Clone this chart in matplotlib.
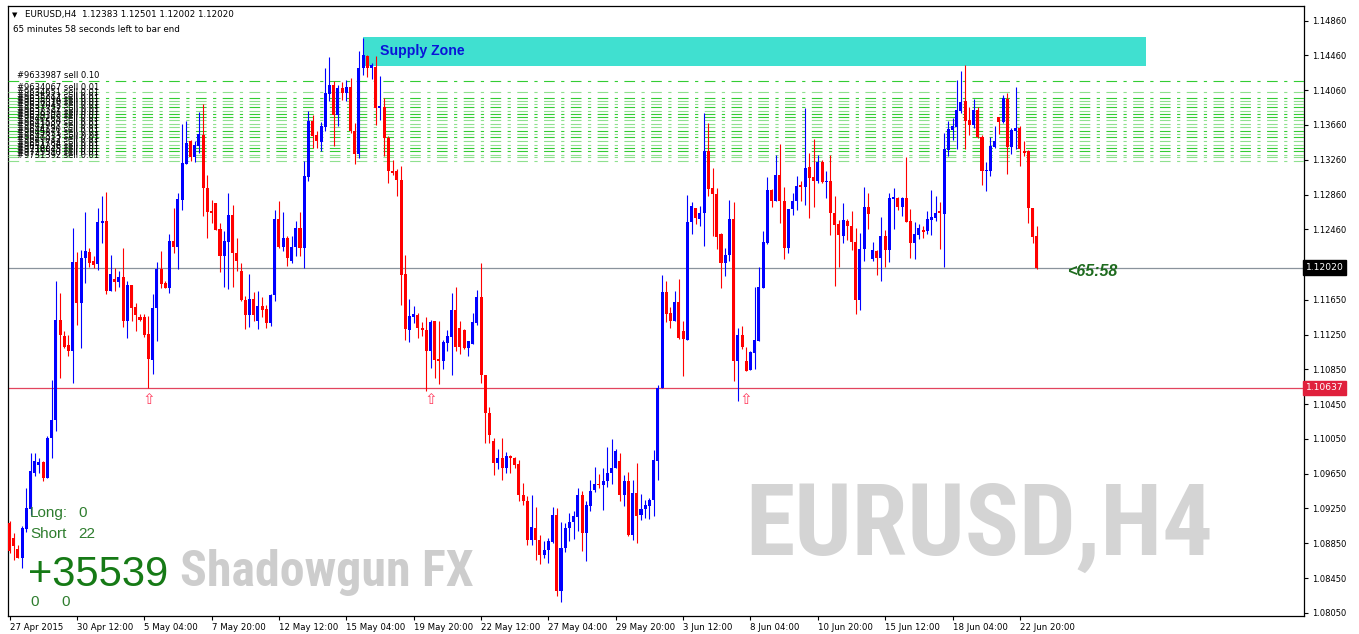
import matplotlib
matplotlib.use("Agg")
import matplotlib.pyplot as plt
from matplotlib import font_manager as fm
from matplotlib.patches import Rectangle
import numpy as np

plt.rcParams['font.family'] = ['DejaVu Sans']

# ---------------- data (EURUSD H4) ----------------
opens = [
    1.0908, 1.0891, 1.0878, 1.0868, 1.0901, 1.0924, 1.0966, 1.0975, 1.0978, 1.0960, 1.1006, 1.1027,
    1.1142, 1.1123, 1.1113, 1.1106, 1.1208, 1.1161, 1.1213, 1.1220, 1.1209, 1.1206, 1.1253, 1.1256,
    1.1175, 1.1189, 1.1185, 1.1191, 1.1140, 1.1182, 1.1157, 1.1145, 1.1145, 1.1126, 1.1096, 1.1155,
    1.1200, 1.1184, 1.1178, 1.1233, 1.1226, 1.1280, 1.1321, 1.1347, 1.1329, 1.1342, 1.1355, 1.1294,
    1.1267, 1.1276, 1.1246, 1.1215, 1.1231, 1.1262, 1.1219, 1.1198, 1.1165, 1.1148, 1.1166, 1.1140,
    1.1158, 1.1154, 1.1138, 1.1170, 1.1258, 1.1226, 1.1236, 1.1210, 1.1226, 1.1248, 1.1225, 1.1306,
    1.1370, 1.1354, 1.1346, 1.1364, 1.1402, 1.1412, 1.1377, 1.1409, 1.1403, 1.1410, 1.1359, 1.1333,
    1.1431, 1.1445, 1.1432, 1.1433, 1.1385, 1.1387, 1.1351, 1.1313, 1.1313, 1.1303, 1.1195,
    1.1130, 1.1145, 1.1147, 1.1133, 1.1130, 1.1106, 1.1140, 1.1097, 1.1095, 1.1115, 1.1122, 1.1153,
    1.1132, 1.1130, 1.1109, 1.1114, 1.1138, 1.1168, 1.1078, 1.1035, 1.1003, 1.0977, 1.0983,
    1.0971, 1.0985, 1.0983, 1.0976, 1.0941, 1.0934, 1.0889, 1.0903, 1.0889, 1.0872, 1.0877, 1.0886,
    1.0918, 1.0830, 1.0880, 1.0902, 1.0909, 1.0915, 1.0940, 1.0897, 1.0928, 1.0946, 1.0953, 1.0952, 1.0956,
    1.0966, 1.0972, 1.0979, 1.0941, 1.0957, 1.0895, 1.0943, 1.0917, 1.0924, 1.0928, 1.0935, 1.0980,
    1.1063, 1.1174, 1.1150, 1.1140, 1.1162, 1.1129, 1.1119, 1.1254, 1.1271, 1.1258, 1.1265, 1.1336,
    1.1293, 1.1287, 1.1241, 1.1207, 1.1216, 1.1258, 1.1095, 1.1124, 1.1095, 1.1084, 1.1104, 1.1118,
    1.1179, 1.1230, 1.1291, 1.1279, 1.1309, 1.1279, 1.1224, 1.1269, 1.1279, 1.1297, 1.1295,
    1.1318, 1.1306, 1.1302, 1.1323, 1.1300, 1.1302, 1.1265, 1.1252, 1.1238, 1.1256, 1.1250, 1.1231,
    1.1165, 1.1223, 1.1272, 1.1212, 1.1221, 1.1213, 1.1238, 1.1222, 1.1281, 1.1282, 1.1272, 1.1282,
    1.1255, 1.1230, 1.1239, 1.1245, 1.1244, 1.1257, 1.1259, 1.1267, 1.1264, 1.1337, 1.1360, 1.1364,
    1.1382, 1.1393, 1.1372, 1.1366, 1.1383, 1.1352, 1.1313, 1.1313, 1.1341, 1.1375, 1.1369, 1.1396,
    1.1341, 1.1359, 1.1362, 1.1336, 1.1336, 1.1270, 1.12383,
]
highs = [
    1.0910, 1.0897, 1.0883, 1.0905, 1.0949, 1.0989, 1.0989, 1.0983, 1.0980, 1.1008, 1.1073, 1.1186,
    1.1173, 1.1129, 1.1125, 1.1247, 1.1220, 1.1222, 1.1266, 1.1224, 1.1215, 1.1270, 1.1284, 1.1289,
    1.1217, 1.1201, 1.1198, 1.1224, 1.1186, 1.1182, 1.1161, 1.1149, 1.1149, 1.1146, 1.1172, 1.1208,
    1.1221, 1.1187, 1.1241, 1.1270, 1.1288, 1.1367, 1.1370, 1.1349, 1.1347, 1.1381, 1.1390, 1.1309,
    1.1280, 1.1276, 1.1253, 1.1244, 1.1288, 1.1274, 1.1236, 1.1207, 1.1169, 1.1195, 1.1174, 1.1175,
    1.1168, 1.1159, 1.1172, 1.1268, 1.1278, 1.1266, 1.1238, 1.1238, 1.1255, 1.1266, 1.1324, 1.1382,
    1.1378, 1.1359, 1.1369, 1.1431, 1.1444, 1.1416, 1.1412, 1.1415, 1.1418, 1.1420, 1.1368, 1.1451,
    1.1466, 1.1447, 1.1437, 1.1445, 1.1422, 1.1397, 1.1353, 1.1326, 1.1315, 1.1319, 1.1217,
    1.1166, 1.1158, 1.1150, 1.1139, 1.1145, 1.1142, 1.1141, 1.1140, 1.1119, 1.1130, 1.1173, 1.1180,
    1.1140, 1.1131, 1.1117, 1.1150, 1.1176, 1.1207, 1.1079, 1.1042, 1.1006, 1.0993, 1.1006,
    1.0990, 1.0987, 1.0984, 1.0981, 1.0954, 1.0939, 1.0940, 1.0927, 1.0895, 1.0887, 1.0891, 1.0927,
    1.0925, 1.0909, 1.0908, 1.0920, 1.0922, 1.0949, 1.0945, 1.0933, 1.0958, 1.0973, 1.0965, 1.0972, 1.0996,
    1.1005, 1.0993, 1.0989, 1.0964, 1.0967, 1.0958, 1.0977, 1.0942, 1.0935, 1.0937, 1.0992, 1.1067,
    1.1194, 1.1186, 1.1157, 1.1175, 1.1189, 1.1141, 1.1285, 1.1277, 1.1271, 1.1273, 1.1380, 1.1368,
    1.1317, 1.1293, 1.1242, 1.1224, 1.1280, 1.1277, 1.1133, 1.1135, 1.1111, 1.1106, 1.1180, 1.1203,
    1.1244, 1.1306, 1.1292, 1.1331, 1.1344, 1.1295, 1.1269, 1.1288, 1.1307, 1.1302, 1.1385,
    1.1334, 1.1350, 1.1331, 1.1326, 1.1313, 1.1331, 1.1284, 1.1257, 1.1276, 1.1258, 1.1267, 1.1247,
    1.1242, 1.1295, 1.1288, 1.1231, 1.1222, 1.1260, 1.1245, 1.1288, 1.1293, 1.1283, 1.1283, 1.1329,
    1.1269, 1.1254, 1.1252, 1.1250, 1.1267, 1.1291, 1.1284, 1.1277, 1.1357, 1.1370, 1.1374, 1.1418,
    1.1428, 1.1435, 1.1387, 1.1396, 1.1387, 1.1355, 1.1323, 1.1352, 1.1365, 1.1375, 1.1400, 1.1403,
    1.1363, 1.1410, 1.1365, 1.1347, 1.1337, 1.1270, 1.12501,
]
lows = [
    1.0874, 1.0866, 1.0868, 1.0857, 1.0898, 1.0918, 1.0962, 1.0966, 1.0957, 1.0960, 1.0983, 1.1014,
    1.1075, 1.1109, 1.1100, 1.1069, 1.1136, 1.1109, 1.1184, 1.1203, 1.1201, 1.1199, 1.1230, 1.1172,
    1.1175, 1.1175, 1.1180, 1.1134, 1.1121, 1.1140, 1.1129, 1.1140, 1.1122, 1.1064, 1.1080, 1.1117,
    1.1178, 1.1178, 1.1173, 1.1219, 1.1200, 1.1268, 1.1321, 1.1324, 1.1323, 1.1334, 1.1261, 1.1236,
    1.1253, 1.1245, 1.1197, 1.1180, 1.1177, 1.1180, 1.1198, 1.1163, 1.1131, 1.1134, 1.1140, 1.1131,
    1.1145, 1.1133, 1.1135, 1.1164, 1.1225, 1.1221, 1.1204, 1.1207, 1.1215, 1.1215, 1.1202, 1.1302,
    1.1339, 1.1339, 1.1336, 1.1359, 1.1393, 1.1342, 1.1365, 1.1395, 1.1394, 1.1357, 1.1321, 1.1328,
    1.1424, 1.1421, 1.1419, 1.1366, 1.1372, 1.1330, 1.1299, 1.1309, 1.1284, 1.1159, 1.1119,
    1.1116, 1.1138, 1.1121, 1.1123, 1.1060, 1.1087, 1.1075, 1.1068, 1.1085, 1.1106, 1.1078, 1.1106,
    1.1103, 1.1108, 1.1100, 1.1114, 1.1136, 1.1069, 1.1000, 1.1000, 1.0964, 1.0970, 1.0958,
    1.0966, 1.0966, 1.0971, 1.0933, 1.0929, 1.0883, 1.0883, 1.0866, 1.0861, 1.0868, 1.0862, 1.0885,
    1.0824, 1.0817, 1.0875, 1.0888, 1.0890, 1.0899, 1.0876, 1.0865, 1.0922, 1.0944, 1.0948, 1.0923, 1.0950,
    1.0953, 1.0971, 1.0933, 1.0928, 1.0893, 1.0889, 1.0885, 1.0912, 1.0914, 1.0913, 1.0916, 1.0958,
    1.1063, 1.1139, 1.1133, 1.1140, 1.1120, 1.1077, 1.1119, 1.1241, 1.1252, 1.1250, 1.1227, 1.1284,
    1.1238, 1.1223, 1.1179, 1.1192, 1.1210, 1.1072, 1.1048, 1.1108, 1.1083, 1.1084, 1.1085, 1.1118,
    1.1179, 1.1229, 1.1272, 1.1279, 1.1253, 1.1212, 1.1219, 1.1263, 1.1268, 1.1278, 1.1274,
    1.1259, 1.1272, 1.1299, 1.1299, 1.1282, 1.1239, 1.1181, 1.1203, 1.1230, 1.1234, 1.1222, 1.1149,
    1.1153, 1.1210, 1.1246, 1.1210, 1.1193, 1.1187, 1.1203, 1.1208, 1.1246, 1.1268, 1.1261, 1.1254,
    1.1213, 1.1212, 1.1235, 1.1236, 1.1241, 1.1240, 1.1256, 1.1223, 1.1203, 1.1330, 1.1349, 1.1338,
    1.1380, 1.1338, 1.1354, 1.1362, 1.1351, 1.1297, 1.1290, 1.1307, 1.1339, 1.1356, 1.1368, 1.1310,
    1.1333, 1.1338, 1.1319, 1.1330, 1.1253, 1.1230, 1.12002,
]
closes = [
    1.0876, 1.0882, 1.0868, 1.0903, 1.0925, 1.0968, 1.0979, 1.0978, 1.0960, 1.1006, 1.1027, 1.1142,
    1.1125, 1.1111, 1.1106, 1.1208, 1.1161, 1.1213, 1.1221, 1.1207, 1.1205, 1.1254, 1.1256, 1.1175,
    1.1195, 1.1185, 1.1191, 1.1140, 1.1182, 1.1156, 1.1148, 1.1142, 1.1125, 1.1097, 1.1156, 1.1200,
    1.1183, 1.1178, 1.1233, 1.1226, 1.1281, 1.1322, 1.1345, 1.1329, 1.1343, 1.1356, 1.1293, 1.1266,
    1.1265, 1.1245, 1.1215, 1.1232, 1.1262, 1.1219, 1.1210, 1.1165, 1.1148, 1.1166, 1.1147, 1.1158,
    1.1153, 1.1138, 1.1171, 1.1258, 1.1226, 1.1236, 1.1213, 1.1226, 1.1247, 1.1225, 1.1307, 1.1370,
    1.1353, 1.1348, 1.1365, 1.1403, 1.1412, 1.1377, 1.1409, 1.1403, 1.1410, 1.1359, 1.1333, 1.1431,
    1.1446, 1.1432, 1.1435, 1.1385, 1.1388, 1.1351, 1.1313, 1.1311, 1.1303, 1.1194, 1.1131,
    1.1146, 1.1149, 1.1132, 1.1130, 1.1106, 1.1139, 1.1096, 1.1095, 1.1116, 1.1123, 1.1153, 1.1111,
    1.1111, 1.1109, 1.1117, 1.1139, 1.1168, 1.1078, 1.1035, 1.1009, 1.0977, 1.0983, 1.0971,
    1.0985, 1.0983, 1.0975, 1.0941, 1.0934, 1.0889, 1.0904, 1.0889, 1.0872, 1.0877, 1.0887, 1.0918,
    1.0830, 1.0880, 1.0902, 1.0909, 1.0916, 1.0940, 1.0897, 1.0929, 1.0945, 1.0953, 1.0952, 1.0957, 1.0966,
    1.0972, 1.0991, 1.0941, 1.0957, 1.0895, 1.0943, 1.0916, 1.0924, 1.0929, 1.0935, 1.0981, 1.1064,
    1.1174, 1.1149, 1.1140, 1.1162, 1.1121, 1.1120, 1.1254, 1.1273, 1.1259, 1.1265, 1.1336, 1.1292,
    1.1287, 1.1237, 1.1207, 1.1217, 1.1258, 1.1095, 1.1124, 1.1111, 1.1083, 1.1105, 1.1119, 1.1180,
    1.1231, 1.1291, 1.1279, 1.1309, 1.1279, 1.1224, 1.1269, 1.1279, 1.1296, 1.1295, 1.1317,
    1.1305, 1.1302, 1.1323, 1.1300, 1.1302, 1.1265, 1.1251, 1.1239, 1.1257, 1.1250, 1.1231, 1.1165,
    1.1223, 1.1272, 1.1264, 1.1222, 1.1213, 1.1238, 1.1222, 1.1282, 1.1283, 1.1272, 1.1282, 1.1254,
    1.1230, 1.1241, 1.1248, 1.1243, 1.1258, 1.1260, 1.1265, 1.1265, 1.1338, 1.1361, 1.1365, 1.1383,
    1.1392, 1.1371, 1.1366, 1.1383, 1.1352, 1.1313, 1.1314, 1.1342, 1.1348, 1.1369, 1.1397, 1.1341,
    1.1360, 1.1363, 1.1338, 1.1334, 1.1270, 1.1237, 1.12020,
]

date_bars = [0, 16, 32, 48, 64, 80, 96, 112, 128, 144, 160, 176, 192, 208, 224, 240]
date_labels = ["27 Apr 2015", "30 Apr 12:00", "5 May 04:00", "7 May 20:00", "12 May 12:00",
               "15 May 04:00", "19 May 20:00", "22 May 12:00", "27 May 04:00", "29 May 20:00",
               "3 Jun 12:00", "8 Jun 04:00", "10 Jun 20:00", "15 Jun 12:00", "18 Jun 04:00",
               "22 Jun 20:00"]
price_ticks = [1.14860, 1.14460, 1.14060, 1.13660, 1.13260, 1.12860, 1.12460, 1.11650, 1.11250,
               1.10850, 1.10450, 1.10050, 1.09650, 1.09250, 1.08850, 1.08450, 1.08050]
price_tick_labels = ["1.14860", "1.14460", "1.14060", "1.13660", "1.13260", "1.12860", "1.12460",
                     "1.11650", "1.11250", "1.10850", "1.10450", "1.10050", "1.09650", "1.09250",
                     "1.08850", "1.08450", "1.08050"]

current_price = 1.12020
support_level = 1.10637
zone_bars = [84, 270]
zone_prices = [1.14334, 1.14670]
zone_label = "Supply Zone"

sell_prices = [1.14170, 1.14039, 1.13975, 1.13936, 1.13901, 1.13863, 1.13825, 1.13786, 1.13748,
               1.13714, 1.13676, 1.13637, 1.13596, 1.13557, 1.13519, 1.13473, 1.13435, 1.13396,
               1.13358, 1.13320, 1.13289, 1.13251]
sell_tickets = ["#9633987", "#9634067", "#9634651", "#9635212", "#9635894", "#9636310", "#9637045",
                "#9637722", "#9638391", "#9639108", "#9640265", "#9641530", "#9642987", "#9644120",
                "#9645871", "#9647333", "#9649012", "#9651784", "#9654236", "#9718845", "#9725510",
                "#9731392"]
sell_lots = ["0.10"] + ["0.01"] * 21
sell_bright = [1, 0, 1, 0, 0, 1, 0, 1, 1, 0, 0, 0, 1, 0, 1, 0, 0, 1, 1, 0, 0, 0]

arrow_bars = [33, 100, 175]
arrow_price = 1.10500

header = "EURUSD,H4  1.12383 1.12501 1.12002 1.12020"
timer_text = "65 minutes 58 seconds left to bar end"
countdown = "<65:58"
long_count, short_count = "0", "22"
profit_text = "+35539"

# ---------------- figure ----------------
W, H = 1359, 634
fig = plt.figure(figsize=(W / 100, H / 100), dpi=100)
fig.patch.set_facecolor('white')
ax = fig.add_axes([8 / W, (H - 616) / H, (1304 - 8) / W, (616 - 6) / H])
ax.set_facecolor('white')

x0_px, step_px = 9.5, 4.21
ax.set_xlim((8 - x0_px) / step_px, (1304 - x0_px) / step_px)
ax.set_ylim(1.08013, 1.15028)

def px(x, y):
    return (x / W, 1 - y / H)

# supply zone
ax.add_patch(Rectangle((zone_bars[0], zone_prices[0]), zone_bars[1] - zone_bars[0],
                       zone_prices[1] - zone_prices[0], facecolor='#40E0D0', edgecolor='none', zorder=1))
ax.text(zone_bars[0] + 4, (zone_prices[0] + zone_prices[1]) / 2 + 0.00005, zone_label,
        fontsize=10.2, fontweight='bold', color='#0a14d8', family='Liberation Sans',
        va='center', ha='left', zorder=9)

# horizontal levels
ax.axhline(current_price, color='#8a939c', lw=0.9, zorder=2)
ax.axhline(support_level, color='#e2445e', lw=0.9, zorder=2)

# sell order lines
ytr = ax.get_yaxis_transform()
for p, t, lot, b in zip(sell_prices, sell_tickets, sell_lots, sell_bright):
    ax.plot([0, 1], [p, p], transform=ytr, color='#33cc33' if b else '#8fe08f',
            lw=0.8, linestyle=(0, (9.6, 5.8, 2.9, 5.8)), zorder=3)
for p, t, lot in zip(sell_prices, sell_tickets, sell_lots):
    ax.annotate(f"{t} sell {lot}", xy=(0.0066, p), xycoords=ytr, xytext=(0, 1.6),
                textcoords='offset points', fontsize=6.0, color='black',
                ha='left', va='baseline', zorder=10)

# candles
o = np.array(opens); h = np.array(highs); l = np.array(lows); c = np.array(closes)
xs = np.arange(len(o))
cols = np.where(c >= o, '#0000FF', '#FF0000')
ax.vlines(xs, l, h, colors=cols, lw=0.8, zorder=5)
ax.bar(xs, np.maximum(np.abs(c - o), 0.00010), bottom=np.minimum(o, c), width=0.72,
       color=cols, linewidth=0, zorder=6)

# arrows
for b in arrow_bars:
    ax.text(b, arrow_price, "\u21e7", fontsize=11, color='#ff3d5e', ha='center', va='center', zorder=7)

# countdown
ax.text(251.3, 1.11970, countdown, fontsize=11.5, fontweight='bold', style='italic',
        color='#1e6b1e', family='Liberation Sans', ha='left', va='center', zorder=9)

# axes styling
for s in ax.spines.values():
    s.set_color('black'); s.set_linewidth(0.9)
ax.yaxis.tick_right()
ax.set_yticks(price_ticks)
ax.set_yticklabels(price_tick_labels)
ax.set_xticks(date_bars)
ax.set_xticklabels(date_labels)
for lb in ax.get_xticklabels():
    lb.set_ha('left')
ax.tick_params(axis='y', which='both', direction='out', length=3, width=0.8, pad=2.5, labelsize=6.0,
               right=True, left=False)
ax.tick_params(axis='x', direction='out', length=3, width=0.8, pad=2.0, labelsize=6.2)

# price boxes on the axis
ax.text(1.0012, current_price, "1.12020", transform=ytr, fontsize=6.6, color='white', ha='left', va='center',
        bbox=dict(boxstyle='square,pad=0.3', facecolor='black', edgecolor='black'), zorder=12, clip_on=False)
ax.text(1.0012, support_level, "1.10637", transform=ytr, fontsize=6.6, color='white', ha='left', va='center',
        bbox=dict(boxstyle='square,pad=0.3', facecolor='#e0203c', edgecolor='#e0203c'), zorder=12, clip_on=False)

# header texts
fig.text(*px(12, 15), "\u25bc", fontsize=5, color='black', va='center', ha='left')
fig.text(*px(25, 15), header, fontsize=6.3, color='black', va='center', ha='left')
fig.text(*px(13, 29), timer_text, fontsize=6.3, color='black', va='center', ha='left')

# bottom-left stats
g = '#2e7d2e'
fig.text(*px(30, 513), "Long:", fontsize=11, color=g, family='Liberation Sans', va='center')
fig.text(*px(78, 513), long_count, fontsize=11, color=g, family='Liberation Sans', va='center')
fig.text(*px(30, 534), "Short", fontsize=11, color=g, family='Liberation Sans', va='center')
fig.text(*px(78, 534), short_count, fontsize=11, color=g, family='Liberation Sans', va='center')
fig.text(*px(28, 586), profit_text, fontsize=30, color='#167a16', family='Liberation Sans', va='baseline')
fig.text(*px(30, 602), "0", fontsize=11, color=g, family='Liberation Sans', va='center')
fig.text(*px(61, 602), "0", fontsize=11, color=g, family='Liberation Sans', va='center')

# condensed bold font for watermarks
def condensed_bold():
    prefs = ['Liberation Sans Narrow', 'Roboto Condensed', 'Open Sans Condensed',
             'DejaVu Sans Condensed', 'Noto Sans Condensed']
    wmap = {'bold': 700, 'normal': 400, 'regular': 400, 'semibold': 600, 'demibold': 600,
            'heavy': 800, 'black': 900, 'extra bold': 800, 'medium': 500}
    cands = []
    for f in fm.fontManager.ttflist:
        st = str(f.stretch).lower()
        cond = ('narrow' in f.name.lower()) or ('condensed' in f.name.lower()) or ('condensed' in st) \
            or (st.isdigit() and int(st) < 500)
        w = f.weight if isinstance(f.weight, (int, float)) else wmap.get(str(f.weight).lower(), 400)
        if cond and w >= 700 and f.style == 'normal':
            rank = prefs.index(f.name) if f.name in prefs else len(prefs)
            cands.append((rank, abs(w - 700), f.fname))
    if cands:
        cands.sort()
        return fm.FontProperties(fname=cands[0][2])
    return fm.FontProperties(family='Liberation Sans', weight='bold')

cfp = condensed_bold()
wm1 = fig.text(*px(745, 555), "EURUSD,H4", fontproperties=cfp, color='#d4d4d4', va='baseline', ha='left',
               zorder=0)
wm1.set_fontsize(60)
wm2 = fig.text(*px(180, 586), "Shadowgun FX", fontproperties=cfp.copy(), color='#cdcdcd', va='baseline',
               ha='left', zorder=0)
wm2.set_fontsize(30)
fig.canvas.draw()
r = fig.canvas.get_renderer()
for t, target in ((wm1, 468), (wm2, 294)):
    bb = t.get_window_extent(r)
    t.set_fontsize(t.get_fontsize() * target / bb.width)

fig.savefig('out.png', dpi=100, facecolor='white')
